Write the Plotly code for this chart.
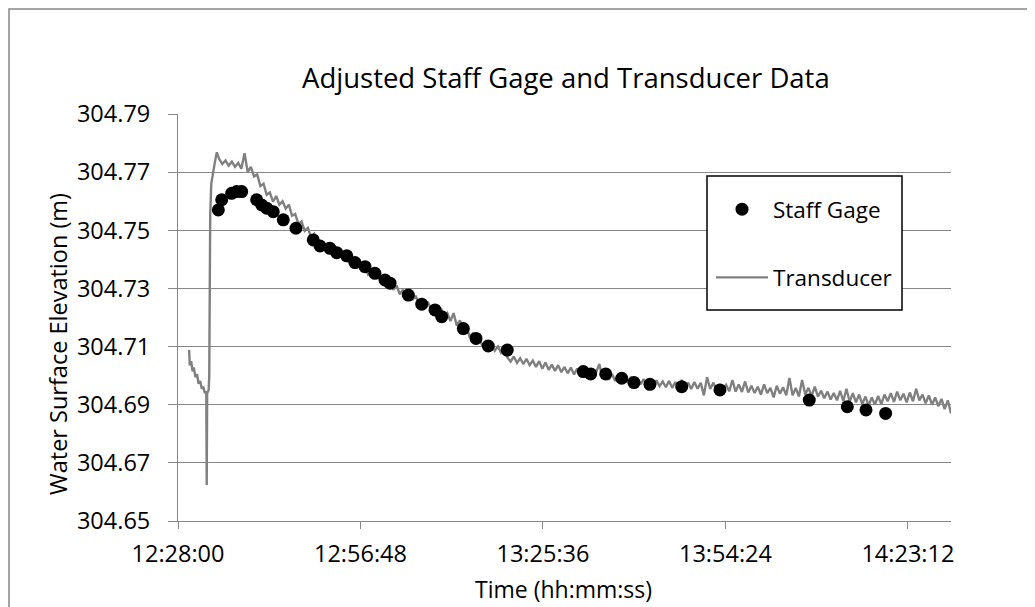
import plotly.graph_objects as go
import pandas as pd

DAY = "2000-01-01 "

# ---------------- data ----------------
staff_times = ["12:34:22", "12:34:54", "12:36:28", "12:37:16", "12:38:03",
               "12:40:25", "12:41:13", "12:42:00", "12:43:02", "12:44:37",
               "12:46:37", "12:49:21", "12:50:25", "12:51:59", "12:53:03",
               "12:54:38", "12:55:56", "12:57:31", "12:59:05", "13:00:40",
               "13:01:28", "13:04:21", "13:06:28", "13:08:34", "13:09:37",
               "13:13:02", "13:15:02", "13:16:58", "13:19:58", "13:31:58",
               "13:33:08", "13:35:30", "13:38:02", "13:39:58", "13:42:29",
               "13:47:30", "13:53:32", "14:07:38", "14:13:38", "14:16:35",
               "14:19:41"]
staff_values = [304.7570, 304.7605, 304.7627, 304.7633, 304.7633,
                304.7605, 304.7587, 304.7576, 304.7564, 304.7536,
                304.7507, 304.7467, 304.7446, 304.7438, 304.7423,
                304.7412, 304.7389, 304.7375, 304.7352, 304.7329,
                304.7318, 304.7277, 304.7246, 304.7226, 304.7203,
                304.7162, 304.7128, 304.7102, 304.7088, 304.7014,
                304.7006, 304.7006, 304.6991, 304.6976, 304.6970,
                304.6962, 304.6951, 304.6916, 304.6893, 304.6882,
                304.6870]

# transducer: irregular early readings (disturbance at start)
trans_early_times = ["12:29:45", "12:29:52", "12:30:05", "12:30:18", "12:30:30",
                     "12:30:45", "12:31:00", "12:31:15", "12:31:30", "12:31:45",
                     "12:32:00", "12:32:15", "12:32:28", "12:32:32", "12:32:36",
                     "12:32:50", "12:32:56", "12:33:05", "12:33:15", "12:33:30",
                     "12:33:45", "12:34:00", "12:34:08"]
trans_early_values = [304.7088, 304.7035, 304.7050, 304.7015, 304.7028,
                      304.6995, 304.7005, 304.6972, 304.6982, 304.6955,
                      304.6962, 304.6940, 304.6945, 304.6624, 304.6940,
                      304.6950, 304.7000, 304.7550, 304.7660, 304.7700,
                      304.7725, 304.7755, 304.7768]

# transducer: regular logging every 30 s from 12:34:30
trans_start = "12:34:30"
trans_step_seconds = 30
trans_values = [
    304.7745, 304.7728, 304.7740, 304.7722, 304.7736, 304.7718, 304.7732, 304.7712, 304.7765, 304.7700,
    304.7718, 304.7685, 304.7692, 304.7652, 304.7660, 304.7622, 304.7630, 304.7598, 304.7618, 304.7588,
    304.7600, 304.7575, 304.7588, 304.7550, 304.7556, 304.7522, 304.7530, 304.7498, 304.7508, 304.7476,
    304.7488, 304.7455, 304.7462, 304.7438, 304.7452, 304.7428, 304.7440, 304.7412, 304.7428, 304.7400,
    304.7416, 304.7388, 304.7402, 304.7376, 304.7395, 304.7362, 304.7372, 304.7348, 304.7362, 304.7335,
    304.7350, 304.7322, 304.7335, 304.7308, 304.7320, 304.7295, 304.7310, 304.7280, 304.7296, 304.7270,
    304.7290, 304.7260, 304.7275, 304.7248, 304.7262, 304.7238, 304.7250, 304.7226, 304.7242, 304.7216,
    304.7232, 304.7202, 304.7215, 304.7188, 304.7215, 304.7172, 304.7190, 304.7160, 304.7170, 304.7136,
    304.7145, 304.7115, 304.7128, 304.7105, 304.7118, 304.7096, 304.7110, 304.7086, 304.7100, 304.7078,
    304.7090, 304.7062, 304.7048, 304.7066, 304.7044, 304.7060, 304.7040, 304.7058, 304.7036, 304.7052,
    304.7030, 304.7050, 304.7024, 304.7045, 304.7020, 304.7038, 304.7016, 304.7036, 304.7012, 304.7030,
    304.7008, 304.7028, 304.7004, 304.7024, 304.7000, 304.7018, 304.6996, 304.7016, 304.6994, 304.7012,
    304.7040, 304.6990, 304.7010, 304.6986, 304.7006, 304.6982, 304.7002, 304.6980, 304.6998, 304.6976,
    304.6996, 304.6972, 304.6992, 304.6970, 304.6988, 304.6966, 304.6986, 304.6955, 304.6984, 304.6964,
    304.6980, 304.6960, 304.6982, 304.6958, 304.6978, 304.6956, 304.6985, 304.6958, 304.6976, 304.6954,
    304.6978, 304.6955, 304.6975, 304.6932, 304.6995, 304.6954, 304.6976, 304.6948, 304.6970, 304.6952,
    304.6968, 304.6946, 304.6985, 304.6945, 304.6970, 304.6944, 304.6980, 304.6942, 304.6965, 304.6940,
    304.6962, 304.6935, 304.6970, 304.6940, 304.6958, 304.6925, 304.6965, 304.6938, 304.6960, 304.6932,
    304.6992, 304.6932, 304.6958, 304.6928, 304.6985, 304.6935, 304.6958, 304.6930, 304.6962, 304.6928,
    304.6948, 304.6922, 304.6945, 304.6918, 304.6940, 304.6915, 304.6948, 304.6912, 304.6955, 304.6910,
    304.6940, 304.6908, 304.6935, 304.6902, 304.6928, 304.6898, 304.6925, 304.6900, 304.6930, 304.6902,
    304.6935, 304.6912, 304.6940, 304.6910, 304.6945, 304.6915, 304.6938, 304.6908, 304.6942, 304.6912,
    304.6955, 304.6915, 304.6935, 304.6905, 304.6932, 304.6900, 304.6925, 304.6895, 304.6920, 304.6885,
    304.6915, 304.6870]

x_tick_labels = ["12:28:00", "12:56:48", "13:25:36", "13:54:24", "14:23:12"]
x_range = ["12:28:00", "14:30:00"]
y_tick_values = [304.65, 304.67, 304.69, 304.71, 304.73, 304.75, 304.77, 304.79]
y_range = [304.65, 304.79]

# ---------------- build ----------------
regular_times = pd.date_range(DAY + trans_start, periods=len(trans_values),
                              freq=f"{trans_step_seconds}s")
trans_x = [pd.Timestamp(DAY + t) for t in trans_early_times] + list(regular_times)
trans_y = trans_early_values + trans_values

FONT = "Open Sans"
GRID = "#878787"
TICK_SIZE = 23.5

# page has an 8px body margin; plot area in page pixels: x 178..951, y 114..521
PAGE_OFF = 8
PLOT_L, PLOT_R, PLOT_T, PLOT_B = 178, 951, 114, 521
FIG_W, FIG_H = 1035 - PAGE_OFF, 607 - PAGE_OFF


def px_x(p):
    return (p - PLOT_L) / float(PLOT_R - PLOT_L)


def px_y(p):
    return (PLOT_B - p) / float(PLOT_B - PLOT_T)


fig = go.Figure()
fig.add_trace(go.Scatter(
    x=trans_x, y=trans_y, mode="lines", name="Transducer",
    line=dict(color="#808080", width=2.4), legendgroup="b", legendrank=2))
fig.add_trace(go.Scatter(
    x=[DAY + t for t in staff_times], y=staff_values, mode="markers",
    name="Staff Gage", marker=dict(color="black", size=13),
    legendgroup="a", legendrank=1))

fig.update_layout(
    width=FIG_W, height=FIG_H,
    margin=dict(l=PLOT_L - PAGE_OFF, r=FIG_W - (PLOT_R - PAGE_OFF),
                t=PLOT_T - PAGE_OFF, b=FIG_H - (PLOT_B - PAGE_OFF)),
    paper_bgcolor="white", plot_bgcolor="white",
    font=dict(family=FONT, size=22, color="black"),
    showlegend=True,
    legend=dict(x=px_x(711), y=px_y(188), xanchor="left", yanchor="top",
                bgcolor="rgba(0,0,0,0)", borderwidth=0,
                font=dict(family=FONT, size=22.5, color="black"),
                itemwidth=52, tracegroupgap=36, traceorder="grouped"),
    xaxis=dict(type="date",
               range=[DAY + x_range[0], DAY + x_range[1]],
               tickvals=[DAY + t for t in x_tick_labels], ticktext=x_tick_labels,
               showgrid=False, zeroline=False,
               showline=True, linecolor=GRID, linewidth=1,
               ticks="outside", ticklen=7, tickcolor=GRID, tickwidth=1,
               ticklabelstandoff=5,
               tickfont=dict(family=FONT, size=TICK_SIZE, color="black")),
    yaxis=dict(range=y_range, tickvals=y_tick_values,
               ticktext=[f"{v:.2f}" for v in y_tick_values],
               showgrid=True, gridcolor=GRID, gridwidth=1, zeroline=False,
               showline=True, linecolor=GRID, linewidth=1,
               ticks="outside", ticklen=9, tickcolor=GRID, tickwidth=1,
               ticklabelstandoff=13,
               tickfont=dict(family=FONT, size=TICK_SIZE, color="black")),
    annotations=[
        dict(text="Adjusted Staff Gage and Transducer Data", xref="paper", yref="paper",
             x=px_x(566), y=px_y(78), xanchor="center", yanchor="middle",
             showarrow=False, font=dict(family=FONT, size=27.5, color="black")),
        dict(text="Time (hh:mm:ss)", xref="paper", yref="paper",
             x=px_x(563), y=px_y(589), xanchor="center", yanchor="middle",
             showarrow=False, font=dict(family=FONT, size=23, color="black")),
        dict(text="Water Surface Elevation (m)", xref="paper", yref="paper",
             x=px_x(58), y=px_y(344), xanchor="center", yanchor="middle",
             textangle=-90, showarrow=False,
             font=dict(family=FONT, size=23.5, color="black")),
    ],
    shapes=[
        dict(type="rect", xref="paper", yref="paper",
             x0=px_x(9), x1=px_x(1050), y0=px_y(640), y1=px_y(9),
             line=dict(color="#878787", width=1.5), fillcolor="rgba(0,0,0,0)",
             layer="above"),
        dict(type="rect", xref="paper", yref="paper",
             x0=px_x(707), x1=px_x(902), y0=px_y(310), y1=px_y(176),
             line=dict(color="black", width=1.5), fillcolor="white",
             layer="above"),
    ],
)

fig.write_html("out.html")
